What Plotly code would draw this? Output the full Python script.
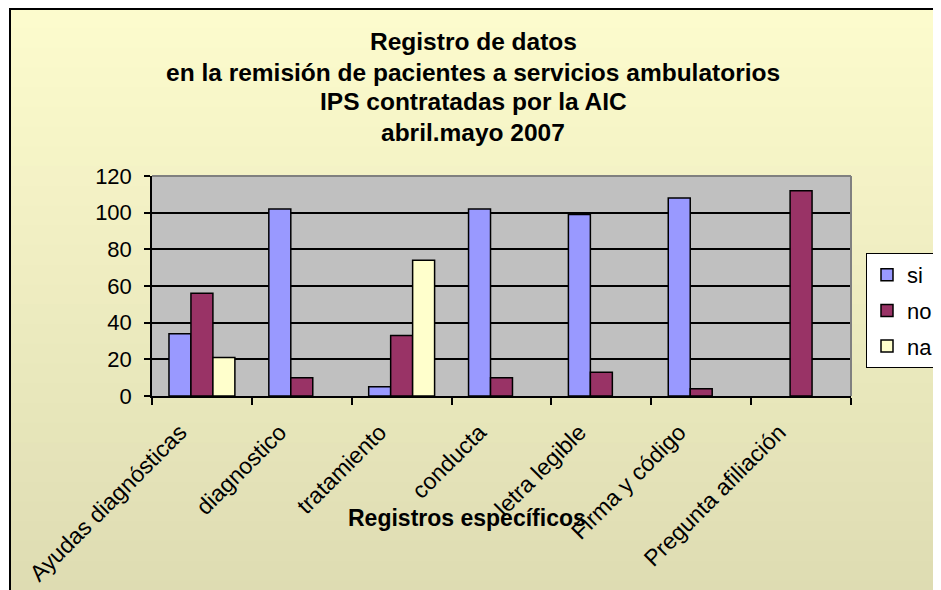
import plotly.graph_objects as go

categories = ["Ayudas diagnósticas", "diagnostico", "tratamiento", "conducta",
              "letra legible", "Firma y código", "Pregunta afiliación"]
si = [34, 102, 5, 102, 99, 108, None]
no = [56, 10, 33, 10, 13, 4, 112]
na = [21, None, 74, None, None, None, None]

series = [("si", si, "#9999FF"), ("no", no, "#993366"), ("na", na, "#FFFFCC")]

title_lines = ["Registro de datos",
               "en la remisión de pacientes a servicios ambulatorios",
               "IPS contratadas por la AIC",
               "abril.mayo 2007"]
x_title = "Registros específicos"

# page shows the figure with an 8px body margin, so work in screen coords minus 8
OFF = 8
W, H = 941 - OFF, 590 - OFF
L = 152 - OFF
T = 176 - OFF
pw, ph = 699, 220
R = W - L - pw
B = H - T - ph

def px(x):  # screen x -> paper
    return (x - OFF - L) / pw

def py(y):  # screen y -> paper
    return (T + ph - (y - OFF)) / ph

FONT = "Liberation Sans, Arial, sans-serif"

fig = go.Figure()
for name, vals, col in series:
    fig.add_trace(go.Bar(
        name=name, x=categories, y=vals,
        marker=dict(color=col, line=dict(color="black", width=1.5)),
        legendgroup=name,
    ))

shapes = []
n = 30
top_c = (252, 251, 205)
bot_c = (222, 220, 178)
y0s, y1s = 8, 600
for k in range(n):
    t = k / (n - 1)
    c = tuple(round(top_c[j] + (bot_c[j] - top_c[j]) * t) for j in range(3))
    ya = y0s + (y1s - y0s) * k / n
    yb = y0s + (y1s - y0s) * (k + 1) / n + 1
    shapes.append(dict(type="rect", xref="paper", yref="paper",
                       x0=px(10), x1=px(960), y0=py(ya), y1=py(yb),
                       line=dict(width=0), fillcolor="rgb(%d,%d,%d)" % c,
                       layer="below"))
shapes.append(dict(type="rect", xref="paper", yref="paper", x0=0, x1=1, y0=0, y1=1,
                   line=dict(width=0), fillcolor="#C0C0C0", layer="below"))
shapes.append(dict(type="rect", xref="paper", yref="paper",
                   x0=px(10), x1=px(960), y0=py(9), y1=py(610),
                   line=dict(color="black", width=2), fillcolor="rgba(0,0,0,0)",
                   layer="above"))
shapes.append(dict(type="line", xref="paper", yref="paper", x0=0, x1=1, y0=1, y1=1,
                   line=dict(color="#808080", width=2), layer="above"))
shapes.append(dict(type="line", xref="paper", yref="paper", x0=1, x1=1, y0=0, y1=1,
                   line=dict(color="#808080", width=2), layer="above"))

title_y = [41, 72, 102, 132]
annotations = []
for line, yy in zip(title_lines, title_y):
    annotations.append(dict(text=line, xref="paper", yref="paper",
                            x=px(473), y=py(yy), xanchor="center", yanchor="middle",
                            showarrow=False,
                            font=dict(family=FONT, size=24.5, weight="bold", color="black")))
annotations.append(dict(text=x_title, xref="paper", yref="paper",
                        x=px(467), y=py(518), xanchor="center", yanchor="middle",
                        showarrow=False,
                        font=dict(family=FONT, size=23, weight="bold", color="black")))

fig.update_layout(
    width=W, height=H,
    margin=dict(l=L, r=R, t=T, b=B, autoexpand=False),
    paper_bgcolor="white",
    plot_bgcolor="rgba(0,0,0,0)",
    barmode="group", bargap=0.34, bargroupgap=0,
    font=dict(family=FONT, color="black", size=22),
    showlegend=True,
    legend=dict(x=px(866), y=py(253), xanchor="left", yanchor="top",
                bgcolor="white", bordercolor="black", borderwidth=1,
                font=dict(family=FONT, size=22, color="black"),
                traceorder="grouped", tracegroupgap=4),
    shapes=shapes,
    annotations=annotations,
    xaxis=dict(type="category", tickson="boundaries", ticks="outside", ticklen=7,
               tickcolor="black", tickwidth=1.5, showline=True, linecolor="black",
               linewidth=1.5, showgrid=False, tickangle=-45,
               tickfont=dict(family=FONT, size=23, color="black"),
               ticklabelstandoff=12, ticklabelshift=-22),
    yaxis=dict(range=[0, 120], dtick=20, showgrid=True, gridcolor="black",
               gridwidth=1.5, zeroline=False, showline=True, linecolor="black",
               linewidth=1.5, ticks="outside", ticklen=6, tickcolor="black",
               tickwidth=1.5, tickfont=dict(family=FONT, size=22, color="black"),
               ticklabelstandoff=8),
)

fig.write_html("out.html")
